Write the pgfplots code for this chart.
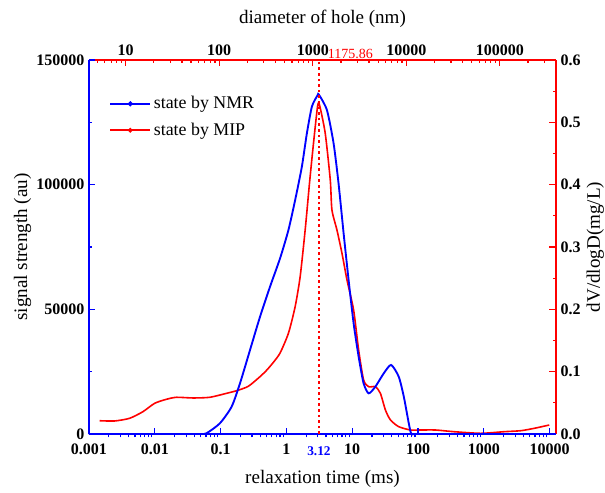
\documentclass[border=0pt]{standalone}
\usepackage{fontspec}
\setmainfont{Liberation Serif}
\usepackage{pgfplots}
\usepackage{pgfplotstable}
\pgfplotsset{compat=1.18}

\newcommand\tickfont{\fontsize{12}{12}\selectfont\bfseries}
\newcommand\labfont{\fontsize{14.3}{16}\selectfont}
\newcommand\legfont{\fontsize{13.4}{15}\selectfont}

% NMR signal (left axis), relaxation time in ms
\pgfplotstableread{
t      s
0.001  0
0.003  0
0.01   0
0.03   0
0.05   0
0.0612 300
0.0976 4300
0.147  10950
0.197  20300
0.280  33700
0.397  47000
0.564  59100
0.802  70500
1.073  81800
1.357  93800
1.717  107200
2.047  120600
2.439  131300
2.97   135800
3.12   136100
4.13   129900
5.21   116600
6.20   100500
7.40   80500
8.81   61800
10.5   44400
12.52  31000
14.9   20300
17.8   16300
22.5   19000
30.1   24300
39.0   27700
50.9   23000
60.8   15000
72.4   4300
79.6   0
100    0
1000   0
10000  0
}\nmr

% MIP dV/dlogD (right axis)
\pgfplotstableread{
t       v
0.00145 0.0213
0.00245 0.0209
0.00414 0.0252
0.0066  0.0358
0.00997 0.0493
0.01503 0.0557
0.0213  0.0589
0.0382  0.0578
0.0687  0.0589
0.1235  0.0653
0.1754  0.0695
0.2634  0.0765
0.397   0.0920
0.5026  0.1025
0.634   0.1150
0.802   0.1300
1.073   0.1616
1.357   0.2042
1.618   0.2524
1.928   0.3273
2.242   0.4022
2.58    0.4664
2.97    0.5251
3.18    0.528
3.89    0.4824
4.64    0.4075
4.92    0.3594
5.86    0.3273
6.99    0.2899
8.33    0.2471
10.5    0.1989
12.52   0.1348
14.9    0.0866
17.8    0.0759
22.5    0.0759
26.8    0.0653
31.96   0.0385
38.1    0.0225
51.0    0.0117
76.9    0.0064
109     0.0064
185     0.0064
352     0.0037
897     0.0011
2033    0.0037
3652    0.0053
5825    0.0091
9860    0.0144
}\mip

\begin{document}
\begin{tikzpicture}
\useasboundingbox (-66.75pt,-43.5pt) rectangle (387pt,325.5pt);

% top axis: diameter of hole
\begin{semilogxaxis}[
  scale only axis, width=350.25pt, height=280.5pt,
  at={(0pt,0pt)}, anchor=south west,
  xmin=4.06, xmax=398000, ymin=0, ymax=1,
  axis x line*=top, axis y line=none,
  axis line style={red, line width=0.8pt},
  tick style={red, line width=0.9pt},
  tick align=inside, major tick length=4.5pt, minor tick length=2.5pt,
  xtick={10,100,1000,10000,100000},
  xticklabels={10,100,1000,10000,100000},
  minor xtick={5,6,7,8,9,20,30,40,50,60,70,80,90,200,300,400,500,600,700,800,900,
    2000,3000,4000,5000,6000,7000,8000,9000,
    20000,30000,40000,50000,60000,70000,80000,90000,200000,300000},
  xticklabel style={font=\tickfont, black},
  xlabel={diameter of hole (nm)},
  xlabel style={font=\labfont},
  xlabel shift=6pt,
]
\addplot[draw=none] coordinates {(10,0.5) (100,0.5)};
\end{semilogxaxis}

% right axis: MIP
\begin{semilogxaxis}[
  scale only axis, width=350.25pt, height=280.5pt,
  at={(0pt,0pt)}, anchor=south west,
  xmin=0.001, xmax=12500, ymin=0, ymax=0.6,
  axis x line=none, axis y line*=right,
  axis line style={red, line width=0.8pt},
  tick style={red, line width=0.9pt},
  tick align=inside, major tick length=5.5pt, minor tick length=2.5pt,
  ytick={0,0.1,0.2,0.3,0.4,0.5,0.6},
  yticklabels={0.0,0.1,0.2,0.3,0.4,0.5,0.6},
  minor ytick={0.05,0.15,0.25,0.35,0.45,0.55},
  yticklabel style={font=\tickfont, black},
  ylabel={dV/dlogD(mg/L)},
  ylabel style={font=\labfont},
  ylabel shift=-2.5pt,
]
\addplot[red, line width=1.2pt, smooth, tension=0.4] table[x=t, y=v] {\mip};
\end{semilogxaxis}

% main axis: NMR
\begin{semilogxaxis}[
  scale only axis, width=350.25pt, height=280.5pt,
  at={(0pt,0pt)}, anchor=south west,
  xmin=0.001, xmax=12500, ymin=0, ymax=150000,
  scaled y ticks=false,
  axis x line*=bottom, axis y line*=left,
  axis line style={blue, line width=0.8pt},
  tick style={blue, line width=0.9pt},
  tick align=inside, major tick length=4.5pt, minor tick length=2.5pt,
  minor x tick style={yshift=-2.5pt},
  xtick={0.001,0.01,0.1,1,10,100,1000,10000},
  xticklabels={0.001,0.01,0.1,1,10,100,1000,10000},
  minor xtick={0.002,0.003,0.004,0.005,0.006,0.007,0.008,0.009,
    0.02,0.03,0.04,0.05,0.06,0.07,0.08,0.09,
    0.2,0.3,0.4,0.5,0.6,0.7,0.8,0.9,2,3,4,5,6,7,8,9,
    20,30,40,50,60,70,80,90,200,300,400,500,600,700,800,900,
    2000,3000,4000,5000,6000,7000,8000,9000},
  ytick={0,50000,100000,150000},
  yticklabels={0,50000,100000,150000},
  minor ytick={25000,75000,125000},
  xticklabel style={font=\tickfont, black},
  yticklabel style={font=\tickfont, black},
  xticklabel shift=4pt,
  xlabel={relaxation time (ms)},
  ylabel={signal strength (au)},
  label style={font=\labfont},
  xlabel shift=5pt,
  ylabel shift=-3pt,
  clip=false,
  legend style={at={(rel axis cs:0.043,0.91)}, anchor=north west,
    draw=none, fill=none, font=\legfont, inner sep=0pt, row sep=5pt},
  legend cell align=left,
  legend image code/.code={
    \draw[#1] (0pt,0pt) -- (30pt,0pt);
    \fill[#1] (15pt,0pt) circle (1.1pt);},
]
\addplot[blue, line width=1.4pt, smooth, tension=0.4] table[x=t, y=s] {\nmr};
\addlegendentry{state by NMR}
\addlegendimage{red, line width=1.2pt}
\addlegendentry{state by MIP}
\draw[red, line width=1.3pt, dash pattern=on 2pt off 2.2pt]
  (axis cs:3.12,0) -- (axis cs:3.12,150000);
\node[blue, font=\fontsize{10}{10}\selectfont\bfseries, anchor=north, yshift=-6pt]
  at (axis cs:3.12,0) {3.12};
\node[red, font=\fontsize{10.5}{10.5}\selectfont, anchor=south west, inner sep=0pt,
  xshift=6.5pt, yshift=1pt] at (axis cs:3.12,150000) {1175.86};
\end{semilogxaxis}
\end{tikzpicture}
\end{document}
